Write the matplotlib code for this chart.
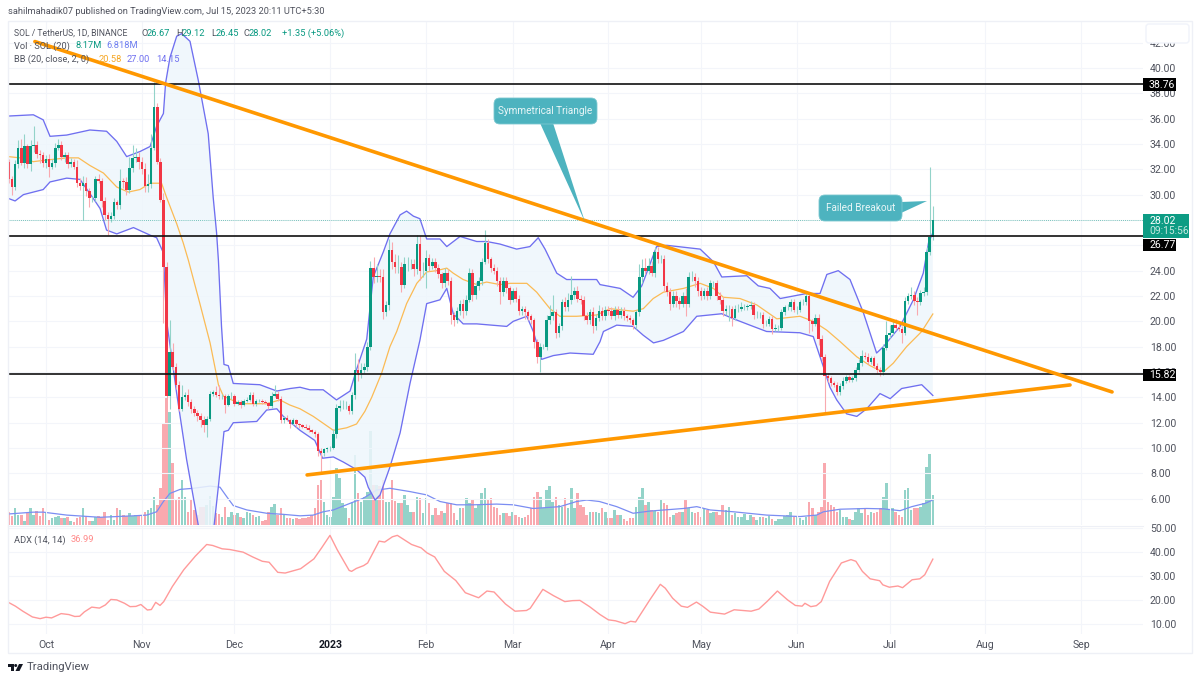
import numpy as np
import pandas as pd
import matplotlib
matplotlib.use("Agg")
import matplotlib.pyplot as plt
from matplotlib.patches import FancyBboxPatch, Polygon, Rectangle, Circle

W, H = 1200, 681
plt.rcParams['font.family'] = ['Roboto', 'DejaVu Sans']

# daily closes, one list per month
close_sep = [31.2,30.6,32.4,33.7,32.5,33.8,32.4,33.8,33.9,33.2,33.1,32.5]
close_oct = [32.8,32.2,32.5,33.7,33.9,33.0,33.1,32.4,32.6,32.2,30.9,30.7,30.9,30.3,29.7,29.7,31.2,31.1,29.5,28.4,28.1,28.3,29.4,29.2,31.1,31.0,30.4,32.1,32.9,33.0,32.6]
close_nov = [32.0,30.7,30.8,33.7,36.9,32.6,29.6,24.3,14.1,17.6,16.4,15.0,13.1,14.0,14.2,13.6,13.1,12.8,12.5,12.2,11.8,12.3,14.3,14.4,14.2,14.1,14.1,13.4,14.1,14.1]
close_dec = [13.5,13.6,13.4,13.7,13.8,14.2,13.5,13.7,13.7,13.6,13.55,13.3,14.1,14.3,13.9,12.2,12.4,12.2,11.9,12.2,11.9,11.8,11.7,11.6,11.4,11.3,11.1,9.8,9.6,9.9,10.0]
close_jan = [10.0,11.1,13.2,13.3,13.3,13.3,12.9,14.2,16.2,15.9,16.2,16.4,18.0,24.2,23.5,23.6,23.5,20.7,21.3,25.6,24.7,24.3,24.3,22.9,24.5,24.5,24.5,24.1,26.1,24.0,24.0]
close_feb = [25.0,24.4,24.7,24.2,23.7,23.0,23.8,23.2,20.5,20.1,20.8,21.4,20.8,21.7,23.8,22.1,22.8,23.2,24.7,26.2,24.9,24.2,24.0,23.2,22.3,23.2,22.6,21.7]
close_mar = [22.4,21.8,20.8,21.0,20.7,20.4,20.1,18.4,17.2,18.0,18.0,20.1,20.4,20.7,19.1,19.6,21.5,21.1,21.7,22.1,22.4,21.8,21.7,20.4,20.1,20.7,19.6,20.3,20.8,20.4,20.9]
close_apr = [20.8,20.4,20.9,20.5,20.8,20.4,20.3,20.1,19.7,20.7,23.5,24.2,24.0,24.4,23.8,25.5,24.9,24.9,22.8,22.3,21.4,22.0,21.6,21.4,22.0,21.4,23.5,23.5,23.2,22.4]
close_may = [22.0,22.4,22.0,23.0,23.0,22.0,21.7,20.8,21.0,21.0,20.3,21.0,21.0,21.1,21.1,21.2,21.3,20.5,20.5,20.5,19.8,19.8,20.2,19.4,19.5,19.5,20.7,21.1,21.1,21.5,20.9]
close_jun = [20.9,21.5,21.5,22.0,20.0,19.8,20.3,18.6,17.2,15.7,15.5,15.1,15.0,14.4,14.9,15.3,15.6,15.4,15.5,16.2,16.7,17.3,17.2,16.8,17.1,16.5,16.2,16.0,17.9,18.9]
close_jul = [19.1,19.7,19.5,19.4,19.1,21.6,22.0,22.1,21.6,21.5,22.2,22.3,25.5,26.67,28.02]
first_open = 32.6

# wick length above / below the candle body
up_sep = [.2,.3,.3,.6,.7,1.0,.2,.5,1.5,.3,.3,.3]
up_oct = [.3,.4,.3,.4,.5,.3,.3,.3,.3,.2,.5,.4,.6,.5,.2,.2,.3,.4,.2,.3,.2,.3,.3,.2,.9,.2,.4,.9,1.0,.7,.4]
up_nov = [.4,.5,.8,1.1,2.0,.3,.3,.5,.4,2.5,.7,.3,.3,1.0,.2,.5,.3,.2,.2,.3,.3,.2,.2,.2,.5,.8,.2,.2,.2,.3]
up_dec = [.2,.2,.2,.2,.2,.2,.2,.2,.2,.2,.2,.1,.3,.7,.2,.2,.1,.2,.1,.2,.1,.1,.1,.2,.2,.1,.1,.2,.2,.1,.1]
up_jan = [.2,.4,.3,.5,.5,.4,.2,.2,1.3,.8,.5,.3,.4,.6,.9,.9,.5,.6,.3,.9,.7,.6,.9,.4,.6,.6,.4,.4,.7,.6,.7]
up_feb = [.6,.3,.3,.3,.3,.2,.4,.3,.3,.2,.3,.3,.4,.4,.4,.3,.3,.3,.3,1.0,.3,.2,.3,.3,.3,.3,.3,.2]
up_mar = [.2,.3,.3,.2,.2,.2,.2,.2,.2,.3,.2,.4,.9,1.4,.3,.3,.3,.4,.5,1.5,.3,.4,.3,.3,.3,.3,.4,.3,.5,.3,.3]
up_apr = [.3,.3,.3,.3,.3,.3,.2,.2,.2,.2,1.0,.7,.8,.6,.4,.4,.4,.3,.3,.3,.3,.4,.4,.3,.3,.6,.4,.5,.3,.3]
up_may = [.3,.2,.3,.3,.2,.3,.3,.2,.3,.3,.2,.3,.4,.4,.3,.2,.3,.2,.3,.2,.2,.3,.2,.2,.3,.2,.3,.2,.3,.3,.3]
up_jun = [.3,.2,.3,.3,.2,.2,.3,.3,.3,.2,.2,.2,.2,.2,.2,.3,.2,.2,.2,.2,.3,.4,.3,.3,.2,.2,.2,.2,.3,1.1]
up_jul = [.6,.4,.5,.3,.2,.3,.2,.6,.3,.3,.3,.4,.4,5.5,1.1]

dn_sep = [.3,.6,.2,.3,.2,.4,.3,.5,.4,.3,.6,.3]
dn_oct = [.4,.8,.2,.3,.2,.3,.4,.3,.2,.2,.3,.3,2.7,.4,.7,.3,.2,.2,.5,.4,1.3,.3,.2,.3,.3,.5,.4,.3,.3,.3,.6]
dn_nov = [.4,.5,.5,.3,.2,.2,.2,4.4,.2,1.0,.2,.3,.2,.2,.2,.3,.3,.3,.4,.5,.5,.9,.2,.2,.2,.2,.2,.6,.1,.2]
dn_dec = [.2,.1,.2,.1,.1,.1,.2,.2,.1,.1,.1,.2,.1,.1,.2,.2,.2,.1,.3,.1,.2,.2,.1,.1,.1,.1,.2,.4,1.5,.2,.2]
dn_jan = [.2,.1,.3,.3,.2,.2,.2,.2,.3,.6,.4,.3,.3,.3,.5,.4,.4,.5,.3,.4,.6,.5,.5,.6,.3,.5,.4,.5,.4,.7,.5]
dn_feb = [1.4,.4,.3,.3,.3,.4,.3,.3,.7,.5,.2,.3,.5,.3,.2,.5,.3,.3,.3,.2,.3,.3,.3,.4,.9,.3,.4,.3]
dn_mar = [.2,.3,.3,.3,.5,.3,.3,.5,.5,1.2,.2,.3,.3,.3,.4,.3,.3,.3,.3,.3,.3,.3,.3,.3,.3,.3,.5,.3,.3,.3,.3]
dn_apr = [.3,.2,.3,.2,.2,.3,.3,.2,.3,.3,.3,.5,.3,.3,.2,.3,.3,.3,.4,.3,.5,.3,.5,.4,.3,1.0,.3,.3,.5,.4]
dn_may = [.3,.2,.3,.2,.3,.3,.3,.4,.3,1.0,.7,.2,.3,.2,.2,.2,.2,.3,.2,.2,.3,.2,.2,.4,.2,.3,.2,.2,.2,.3,.2]
dn_jun = [.3,.2,.2,.2,.9,.6,.2,.5,.3,2.9,.3,.2,.2,.2,.2,.2,.2,.2,.2,.2,.2,.2,.2,.2,.2,.2,.3,.3,.2,.2]
dn_jul = [.2,.2,.2,.2,.8,.2,.2,.2,.3,1.0,.2,.2,.2,.3,.22]

# volume, millions
vol_sep = [3.6,2.5,4.5,2.7,2.7,1.1,3.2,4.5,2.7,3.8,2.5,4.5]
vol_oct = [3.2,1.4,1.8,2.3,2.5,2,2,2.3,1.1,.9,1.8,2.3,4.5,2.3,1.1,1.1,2.3,2.5,2.3,3.6,1.4,2.7,1.4,4.5,4.1,2.7,2.5,3.2,2.5,2.7,2.7]
vol_nov = [2.7,3.5,4.1,4.5,7.7,5.5,10,27.7,34.5,30.9,16.8,6.8,7.7,12.3,7.7,3.6,6.8,4.1,2.7,5,5,5.5,8,5.3,3.2,2.9,2.3,5,2.3,3.6]
vol_dec = [2.7,3.2,2.3,1.8,3.6,3.2,2.7,2.3,2.5,1.1,1.4,3.6,5,5.6,2.7,4.5,2.7,1.8,2,1.6,2,1.6,1.8,1.8,2.3,2.7,4.5,10.9,12.3,6.4,2.7]
vol_jan = [2.3,7.7,15.5,12.7,5.9,4.5,2,6.4,19.1,8.6,6.4,7.7,9.1,25.5,10.9,10.9,10.5,12.3,6.2,6.4,12.3,6.5,5.9,5.9,8.2,5.5,3.6,3.5,7.7,7.3,3.2]
vol_feb = [7.3,5.9,2.7,4.5,2.7,3.8,3.2,5.9,5.9,3.2,1.4,4.5,4.7,7.3,5.9,6.8,4.5,5.5,8.6,10,6.8,7.3,5,4.5,2.7,3.2,3.2,2.5]
vol_mar = [3.6,2.7,2.3,1.8,2.3,2.7,4.5,7.7,9.1,7.7,4.5,9.5,10.5,6.4,7.7,5.5,5,7.3,4.5,10,4.5,8.6,5.5,5,2.7,3.6,3.6,3.6,3.2,4.5,3.6]
vol_apr = [2,1.8,4.1,2.7,2.7,1.6,1.1,1.8,1.8,5,7.7,10.2,5.5,6.4,4.1,3.8,3.6,6.8,5.9,5.5,2.3,2.7,3.2,3.5,3.6,6.8,4.5,3.6,3.2,3.6]
vol_may = [2.3,4.5,4.1,3.2,3.6,3.6,2.7,5.5,4.1,5,2.7,3.2,2.3,2.3,2.9,1.4,2.7,2.3,1.4,2.3,2.3,2,2.5,1.6,1.1,1.6,1.6,2.5,2.7,3.5,2.3]
vol_jun = [2.3,2,1.4,2.3,6.2,4.5,2.7,3.6,5,16.8,6.2,5.5,5,3.6,4.1,2.3,2.3,1.6,1.4,3.6,4.5,3.2,4.5,2.7,3.5,3.2,3.6,4.5,7.7,11.4]
vol_jul = [4.1,4.5,3.6,2.7,2.3,9.5,10,4.1,4.5,4.5,5,5.9,15.9,19.3,8.17]

# indicators, read as (days since 1 Oct 2022, value)
upper_day = [-12.2,-4.1,-.9,1.3,6.7,14.2,19.6,22.9,26.1,30.4,33.7,35.8,38,38.7,40.1,42.3,43.9,46.6,49.3,52.5,54.1,55.2,55.8,56.8,57.6,59,60.6,69.2,74.7,79,82.2,85.4,89.7,94,98.4,100.5,103.8,105.9,109.2,111.3,114.6,116.7,118.9,121,123.2,127.5,129.7,134,139.4,142.6,146.9,152.3,156.6,159.3,161.5,165.3,168.5,178.2,179.3,185.8,190,192.8,197.6,200.9,211.7,216,218.7,226.8,230.5,234.3,237.6,246.2,250.5,252.7,256.4,260.2,264.5,268.8,271,276.4,280.7,283.9,285.6,287]
upper_val = [36.2,36.3,35.9,34.6,34.7,35.1,35.0,34.2,33.0,33.4,33.8,35.4,36.4,38.8,40.8,42.5,42.7,42.1,39,34.8,29.8,27,24.8,19.6,16.6,16.5,15.1,15.0,14.5,14.7,14.8,14.6,14.6,13.8,14.5,16.2,18.6,23.5,25.5,26.9,28.4,28.7,28.3,28.1,26.5,26.5,25.9,26.7,26.3,26.3,26.1,25.7,25.9,26.6,25.7,23.8,23.3,23.3,22.9,22.6,21.9,22.8,25.9,26,25.7,24.7,23.5,23.6,22.8,22.6,21.8,22.2,22.2,23.7,24,23.3,20.7,17.5,18,19.6,21.7,23.8,26.2,27.0]
basis_day = [-12.2,-8.4,-4.1,-.9,2.9,6.7,10.5,14.2,18.6,22.9,26.6,30.4,33.7,37.4,39,42.3,44.4,46.1,49.8,53.1,55.8,57.4,62.8,71.4,75.7,78.9,82.2,86.5,93,97.3,100.5,103.2,105.4,108.6,111.3,113.5,116.7,120,123.2,126.4,129.7,131.8,135,139.4,142.6,146.9,150.2,155.6,158.8,163.1,166.3,171.7,178.2,182.5,190,193.3,196.5,199.8,206.3,211.7,216,219.2,224.6,230,236.5,244,248.3,252.7,257,262.4,266.7,271,274.2,278.5,283.4,287]
basis_val = [33,32.9,32.6,32.7,32.8,32.9,32.9,32.3,31.7,30.6,30.2,30.4,30.9,30.9,29.8,27.7,26.2,24.8,21.4,18.3,15,14.1,13.5,13.5,13.8,13.4,13.1,12.5,11.4,11.6,11.9,12.9,14,15.9,18,19.2,21.4,23,23.9,24,24.2,23.8,23.3,22.9,23.1,22.9,23,23,22.3,21,20.4,20.4,20.5,21,20.8,21,21.8,22.3,22.6,23,22.6,21.9,21.8,21.3,20.2,20.4,20,19.3,18.4,17.2,16.5,16,16.7,18,19.2,20.58]
lower_day = [-12.2,-10,-7.3,-.9,1.3,6.7,11,15.3,17.5,19.6,22.9,28.3,33.7,35.8,38,39,42.3,45.5,49.3,51,53,54.4,55.8,57.6,59,60.6,68.2,71.4,74.7,76.8,82.2,87,89.5,93,96.2,100.5,103.2,104.3,106.5,108.1,111.3,114.6,117.8,121,123.2,127.5,129.7,131.8,135,139.4,149.1,151.2,155.6,157.7,160.4,164.2,169.6,177.1,179.3,180.4,184.7,190,193.3,196.6,199.8,206.3,210.6,218.7,222.5,227.8,233.2,244,248.3,251.6,253.7,255.9,259.1,262.4,265.6,269.9,273.2,276.9,283.4,287]
lower_val = [29.7,29.5,30,30.4,31,31.3,31.2,29.7,28.9,27.2,26.9,27.4,26.8,26.6,25.4,20.1,14.3,9.1,3.9,2,2,3.9,7,11.3,11.4,12,12.1,13,13.1,12.5,11.4,10.6,9.2,9.3,8.9,8.3,7.7,6.9,5.9,6.3,8.5,11.2,15.1,18.5,21.4,21.7,22.6,20.6,19.8,19.8,19.6,20,20.4,19.2,17,17.3,17.5,17.4,18.4,19.2,19.7,19.6,18.9,18.3,18.5,19.2,20.4,20.6,20.2,19.7,19.2,19.1,18.8,16.4,14.8,13.8,12.7,12.5,13.1,14.3,13.9,14.7,15,14.15]
volma_day = [-12.2,-4.1,-.9,6.7,17.5,28.3,32.6,35.8,38,40.1,43.4,47.7,53.1,56.3,58.5,60.6,65,71.4,76.8,82.2,86.5,89.7,93,98.4,102.7,107,111.3,117.8,123.2,127.5,132.9,138.3,145.8,151.2,157.7,166.3,171.7,175,179.1,184.7,190,195.5,206.3,210.6,214.9,222.5,233.2,244,249.4,251.6,257,265.6,271,276.4,280.2,284.5,287]
volma_val = [3,3.5,3.5,2.7,2.1,2.5,2.7,3.6,6.4,8.6,9.7,10,10.6,10.3,7.7,5.3,4.1,3.2,2.9,2.5,2.7,3.6,4.1,5.9,7.3,9.5,10,9.1,8.2,6.4,5.5,5.5,5.7,5.5,4.5,5,6.4,6.8,6.4,5,3.2,3.8,4.5,5,4.1,3.6,2.7,2.3,2.7,3.6,4.3,4.5,4.4,3.9,5,5.9,6.82]
adx_day = [-12.2,-9.9,-7.5,-4.4,-1.9,0,1.8,4.9,7.4,9.3,10.9,12.4,14.8,17.3,19.2,21,22.9,25.4,27.2,29.1,30.7,32.8,34.1,35.5,36.9,38.1,40.9,44.6,48.3,52,53.9,57,59.5,63.8,66.9,70,72.2,75,77.4,82.4,86.7,89.2,91.9,94.2,98.1,98.9,100.4,102.8,104.1,107.8,109.6,112.1,113.7,118.3,121.4,123.3,125.8,128.9,132.6,135.7,140,142.7,145,148.7,151.8,155.5,156.7,160.8,164.2,167.9,170.4,172.8,175.9,179.3,182,184.3,187.4,189.2,190.8,195.4,198.8,200.4,202.8,205.6,207.6,210.5,212.5,215,219.6,222.7,228.2,230.7,233.4,236.7,240,242.5,244.7,245.6,247.5,249.3,250.9,253.6,257.4,260.5,262.1,264.2,266.7,269.8,270.8,272.9,275.7,277.2,280.3,282.8,284.4,287]
adx_val = [19,17.4,15.3,12.9,12.2,12.8,12.5,14.3,13.9,13.1,13.2,15,17,16.6,17.9,20.2,20,18.6,17.2,17.3,18.1,15.8,16,19,17.7,19.3,25.6,32.6,38.2,43.1,42.7,41.3,41,39.9,37.9,36.1,35.7,31.5,31.2,33,37.1,41.7,46.9,41,32.3,31.9,33.1,34.3,35.4,44.5,44.1,46.3,46.9,43.1,41.7,39.6,37.9,31.9,28.1,23,20.9,23.7,23.3,18.3,15.3,15.6,16.5,24.4,21.8,19.3,19.7,19.8,17.2,13.9,11.7,11.3,10.1,11.1,10.8,20,26.5,24.9,20.7,17.4,16.9,19.1,17.4,14.9,14.1,15.9,15.3,16.2,19.4,23.7,20,17.7,17.4,18.6,17.2,17.6,19.3,27.7,35.4,36.8,36.1,31.9,28.8,28,26.3,25.3,25.8,25.1,28.4,28.8,30.5,36.99]

levels = [38.76, 26.77, 15.82]
last_price = 28.02
# trend lines as (day, price)
falling_day, falling_price = [-3.6, 345.0], [42.08, 14.43]
rising_day, rising_price = [84.5, 331.4], [7.88, 14.98]

month_labels = ["Oct", "Nov", "Dec", "2023", "Feb", "Mar", "Apr", "May", "Jun", "Jul", "Aug", "Sep"]
month_starts = ["2022-10-01", "2022-11-01", "2022-12-01", "2023-01-01", "2023-02-01", "2023-03-01",
                "2023-04-01", "2023-05-01", "2023-06-01", "2023-07-01", "2023-08-01", "2023-09-01"]

GREEN, RED = "#089981", "#f23645"
PALE_GREEN, PALE_RED = "#93d3c9", "#f9a9af"
GRID = "#f3f5fa"
TEXT = "#50535e"

close = np.array(close_sep + close_oct + close_nov + close_dec + close_jan + close_feb + close_mar + close_apr + close_may + close_jun + close_jul)
up = np.array(up_sep + up_oct + up_nov + up_dec + up_jan + up_feb + up_mar + up_apr + up_may + up_jun + up_jul)
dn = np.array(dn_sep + dn_oct + dn_nov + dn_dec + dn_jan + dn_feb + dn_mar + dn_apr + dn_may + dn_jun + dn_jul)
vol = np.array(vol_sep + vol_oct + vol_nov + vol_dec + vol_jan + vol_feb + vol_mar + vol_apr + vol_may + vol_jun + vol_jul)
opn = np.r_[first_open, close[:-1]]
dates = pd.date_range("2022-09-19", "2023-07-15")
origin = pd.Timestamp("2022-10-01")
days = np.array((dates - origin).days)
ticks = [(pd.Timestamp(m) - origin).days for m in month_starts]
is_up = close >= opn
body_lo = np.minimum(opn, close)
body_hi = np.maximum(opn, close)

fig = plt.figure(figsize=(W / 100, H / 100), dpi=100)


def add_pane(left, top, right, bottom):
    return fig.add_axes([left / W, 1 - bottom / H, (right - left) / W, (bottom - top) / H])


xlim = ((8 - 46) / 3.09, (1143 - 46) / 3.09)

ax_vol = add_pane(8, 21, 1143, 525)
ax = add_pane(8, 21, 1143, 525)
ax_adx = add_pane(8, 526, 1143, 634)
ax.patch.set_alpha(0)

for a in (ax, ax_vol, ax_adx):
    a.set_xlim(xlim)
    for s in a.spines.values():
        s.set_visible(False)
    a.set_xticks(ticks)
    a.tick_params(length=0)

# volume
ax_vol.set_ylim(0, 137.3)
ax_vol.set_yticks([])
ax_vol.set_xticklabels([])
ax_vol.bar(days, vol, width=0.82, color=np.where(is_up, PALE_GREEN, PALE_RED), zorder=2)
ax_vol.plot(volma_day, volma_val, color="#7b8df2", lw=0.9, zorder=3)

# price
ax.set_ylim(3.93, 43.7)
ax.yaxis.tick_right()
ax.set_yticks(np.arange(6, 44, 2))
ax.set_yticklabels([f"{v:.2f}" for v in np.arange(6, 44, 2)], fontsize=7.6, color=TEXT)
ax.tick_params(axis="y", pad=5)
ax.set_xticklabels([])
ax.grid(color=GRID, lw=0.8, zorder=0)
ax.set_axisbelow(True)

ax.fill(np.r_[upper_day, lower_day[::-1]], np.r_[upper_val, lower_val[::-1]], color="#eef6fc", alpha=0.85, lw=0, zorder=1)
ax.plot(upper_day, upper_val, color="#6f6ff0", lw=0.95, zorder=2)
ax.plot(lower_day, lower_val, color="#6f6ff0", lw=0.95, zorder=2)
ax.plot(basis_day, basis_val, color="#fbbb55", lw=0.9, zorder=2)

ax.vlines(days, body_lo - dn, body_hi + up, colors=np.where(is_up, PALE_GREEN, PALE_RED), lw=0.8, zorder=3)
ax.bar(days, body_hi - body_lo, bottom=body_lo, width=0.82, color=np.where(is_up, GREEN, RED), zorder=4)

ax.axhline(last_price, color=GREEN, lw=0.6, ls=(0, (1, 1.5)), zorder=3, alpha=0.7)
for lv in levels:
    ax.axhline(lv, color="#111111", lw=1.2, zorder=5)
ax.plot(falling_day, falling_price, color="#ff9800", lw=2.6, solid_capstyle="round", zorder=6)
ax.plot(rising_day, rising_price, color="#ff9800", lw=2.6, solid_capstyle="round", zorder=6)

# ADX pane
ax_adx.set_ylim(5.8, 50.8)
ax_adx.yaxis.tick_right()
ax_adx.set_yticks([10, 20, 30, 40, 50])
ax_adx.set_yticklabels(["10.00", "20.00", "30.00", "40.00", "50.00"], fontsize=7.6, color=TEXT)
ax_adx.tick_params(axis="y", pad=5)
ax_adx.tick_params(axis="x", pad=4)
ax_adx.grid(color=GRID, lw=0.8)
ax_adx.set_axisbelow(True)
ax_adx.plot(adx_day, adx_val, color="#ff9a9a", lw=1.0)
ax_adx.set_xticklabels(month_labels, fontsize=7.6, color=TEXT)
ax_adx.get_xticklabels()[3].set_fontweight("bold")
ax_adx.get_xticklabels()[3].set_color("#131722")

# overlay in pixel coordinates for frame, labels and drawings
ov = fig.add_axes([0, 0, 1, 1])
ov.set_xlim(0, W)
ov.set_ylim(H, 0)
ov.axis("off")
ov.patch.set_alpha(0)

ov.add_patch(Rectangle((8, 21), 1184, 632, fill=False, ec="#eef0f6", lw=1))
ov.plot([8, 1143], [525.5, 525.5], color="#eef0f6", lw=0.8)


def label(x, y, s, color=TEXT, size=6.7, **kw):
    ov.text(x, y, s, color=color, fontsize=size, va="center", ha=kw.pop("ha", "left"), **kw)


label(8, 12, "sahilmahadik07 published on TradingView.com, Jul 15, 2023 20:11 UTC+5:30")
label(14, 33, "SOL / TetherUS, 1D, BINANCE", size=6.2)
for x, s, c in [(141, "O", TEXT), (147, "26.67", GREEN), (176, "H", TEXT), (182, "29.12", GREEN),
                (211, "L", TEXT), (216, "26.45", GREEN), (243, "C", TEXT), (249, "28.02", GREEN),
                (282, "+1.35 (+5.06%)", GREEN)]:
    label(x, 33, s, color=c)
label(14, 46, "Vol · SOL (20)")
label(76, 46, "8.17M", color=GREEN)
label(106, 46, "6.818M", color="#6f7ff0")
label(14, 59, "BB (20, close, 2, 0)")
label(99, 59, "20.58", color="#f5a623")
label(127, 59, "27.00", color="#6f6ff0")
label(156, 59, "14.15", color="#6f6ff0")
label(14, 540, "ADX (14, 14)")
label(71, 540, "36.99", color="#ff8a8a")

# box hiding the clipped top tick
ov.add_patch(FancyBboxPatch((1146, 24), 43, 19, boxstyle="round,pad=0,rounding_size=3", fc="white", ec="#f0f3fa", lw=1, zorder=5))

# price tags on the axis
for top, bottom, s in [(78, 91, "38.76"), (239, 251, "26.77"), (369, 381, "15.82")]:
    ov.add_patch(Rectangle((1143, top), 33, bottom - top, fc="black", ec="none", zorder=6))
    label(1149, (top + bottom) / 2, s, color="white", size=7.6, zorder=7)
ov.add_patch(Rectangle((1143, 214), 46, 24, fc="#0d9c84", ec="none", zorder=6))
label(1149, 220.5, "28.02", color="white", size=7.6, zorder=7)
label(1149, 231.5, "09:15:56", color="#c6e8e0", size=7.4, zorder=7)

# callouts
CALLOUT = "#4db3bf"
ov.add_patch(Polygon([(540, 123), (553, 123), (585, 222)], fc=CALLOUT, ec="none", zorder=7))
ov.add_patch(FancyBboxPatch((494, 98), 103, 26, boxstyle="round,pad=0,rounding_size=6", fc=CALLOUT, ec="#7cc8d0", lw=0.6, zorder=8))
label(545.5, 111, "Symmetrical Triangle", color="#e9f6f7", ha="center", size=7.2, zorder=9)
ov.add_patch(Polygon([(901, 202), (901, 213), (927, 201)], fc=CALLOUT, ec="none", zorder=7))
ov.add_patch(FancyBboxPatch((819, 195), 83, 26, boxstyle="round,pad=0,rounding_size=6", fc=CALLOUT, ec="#7cc8d0", lw=0.6, zorder=8))
label(860.5, 208, "Failed Breakout", color="#e9f6f7", ha="center", size=7.2, zorder=9)

# logo
ov.add_patch(Polygon([(8, 664), (14, 664), (14, 671), (11, 671), (11, 667), (8, 667)], fc="#131722", ec="none"))
ov.add_patch(Circle((15.7, 665.5), 1.5, fc="#131722", ec="none"))
ov.add_patch(Polygon([(19, 664), (23, 664), (19.5, 671), (15.5, 671)], fc="#131722", ec="none"))
label(26.5, 667.5, "TradingView", size=8.2)

fig.savefig("out.png", dpi=100)
